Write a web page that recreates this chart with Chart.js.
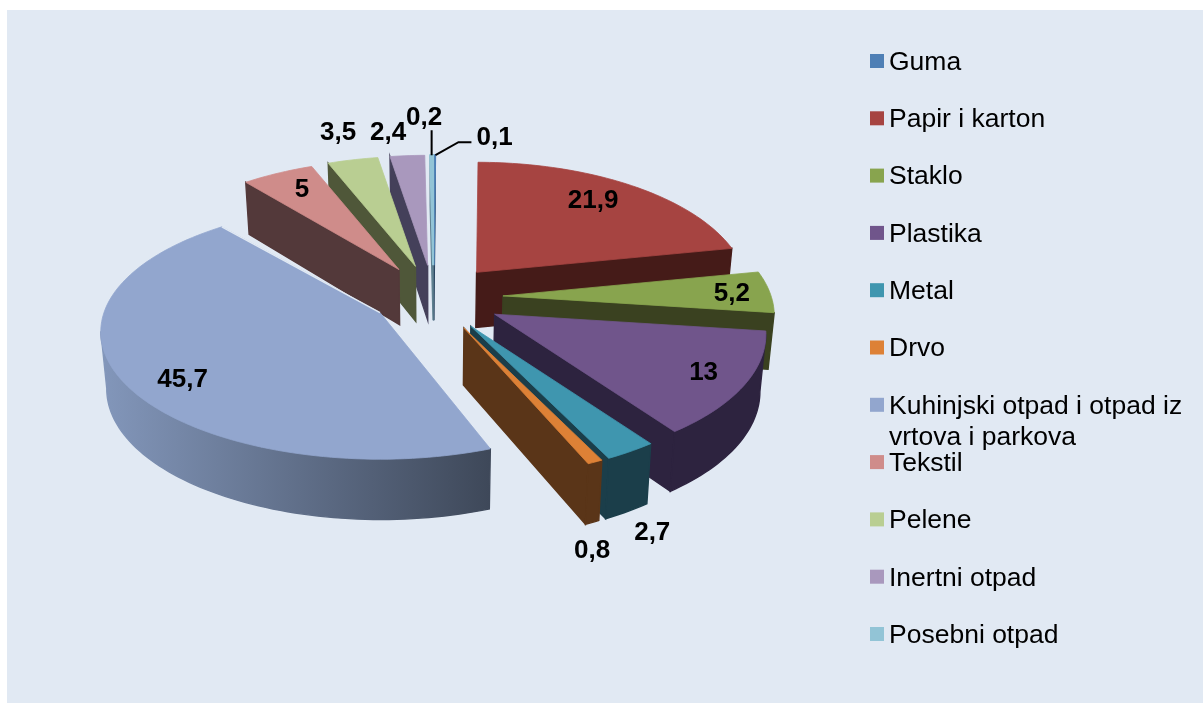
<!DOCTYPE html>
<html>
<head>
<meta charset="utf-8">
<title>Sastav otpada</title>
<script src="https://cdn.jsdelivr.net/npm/chart.js@4/dist/chart.umd.min.js"></script>
<style>
  html, body { margin: 0; padding: 0; background: #fff; overflow: hidden; }
  #panel { position: absolute; left: 7px; top: 10px; width: 1196px; height: 693px; background: #e1e9f3; }
  #chart { position: absolute; left: 0; top: 0; }
</style>
</head>
<body>
<div id="panel"></div>
<canvas id="chart" width="1203" height="703"></canvas>
<script>
const categories = ["Guma", "Papir i karton", "Staklo", "Plastika", "Metal", "Drvo",
  "Kuhinjski otpad i otpad iz vrtova i parkova", "Tekstil", "Pelene", "Inertni otpad", "Posebni otpad"];
const values = [0.1, 21.9, 5.2, 13, 2.7, 0.8, 45.7, 5, 3.5, 2.4, 0.2];
const topColors = ["#4e7fb5", "#a64441", "#88a44e", "#70558b", "#3f96af", "#dd8136",
  "#92a6ce", "#cf8c8a", "#b9ce92", "#a998bd", "#92c4d6"];
const wallColors = ["#2a4560", "#451b18", "#3a4120", "#2d233f", "#1b3e4a", "#5a3518",
  "#4f5c75", "#53393a", "#4f5739", "#44405a", "#5f8090"];
// how far each slice is pulled out, in % of the radius
const explode = [26, 26, 26, 26, 26, 26, 23, 26, 26, 26, 26];

// data label placement: radius fraction along the middle of the slice, then a nudge in px
const labelRadius = [1.2, 0.75, 0.82, 0.82, 1.1, 1, 0.78, 0.78, 1.28, 1.25, 1.4];
const labelNudge = [[60, 1], [-1, -4], [10, 1], [7, 2], [3, 67], [-3, 89], [-2, 13], [0, -3], [0, -2], [-15, 0], [-7, -1]];

// fake 3D camera, fitted by eye against the picture
const CX = 433.5, CY = 297, RX = 268, RY = 127, PERSP = 0.154, DEPTH = 56;
const BIG = 6; // the big slice is a bit wider and flatter than the rest, its front corner sits further in
const BIG_STRETCH = [1.03, 0.98], BIG_TRIM = 3.4 * Math.PI / 180;

function project(ux, uy) {
  const w = 1 - PERSP * uy;
  return { x: RX * ux / w, y: RY * uy / w };
}

// point on the top face of a slice + its counterpart on the bottom face
function slicePoint(g, theta, f) {
  const ux = Math.sin(theta) * f * g.sx;
  const uy = -Math.cos(theta) * f * g.sy;
  const q = project(ux, uy);
  const x = g.apex.x + q.x;
  const y = g.apex.y + q.y;
  return {
    x, y,
    bx: CX + (x - CX) * 0.982,
    by: y + DEPTH * (1 + 0.07 * (uy + g.offUy))
  };
}

function poly(ctx, pts, fill, lineWidth) {
  ctx.beginPath();
  pts.forEach((p, i) => (i ? ctx.lineTo(p[0], p[1]) : ctx.moveTo(p[0], p[1])));
  ctx.closePath();
  ctx.fillStyle = fill;
  ctx.fill();
  ctx.strokeStyle = fill;
  ctx.lineWidth = lineWidth || 0.8;
  ctx.stroke();
}

function sliceGeometry(arc, i) {
  const start = arc.startAngle + Math.PI / 2;
  const end = arc.endAngle + Math.PI / 2;
  const mid = (start + end) / 2;
  const e = arc.options.offset / 100;
  const offUy = -Math.cos(mid) * e;
  const p = project(Math.sin(mid) * e, offUy);
  const big = i === BIG;
  return {
    start: big ? start + BIG_TRIM : start,
    end, mid, offUy,
    sx: big ? BIG_STRETCH[0] : 1,
    sy: big ? BIG_STRETCH[1] : 1,
    apex: { x: CX + p.x, y: CY + p.y }
  };
}

function wall(ctx, a, b, mid, color) {
  // a wall is only seen when the top face lies above its edge
  const t = (mid.x - a.x) / ((b.x - a.x) || 1);
  if (mid.y > a.y + t * (b.y - a.y)) return;
  poly(ctx, [[a.x, a.y], [b.x, b.y], [b.bx, b.by], [a.bx, a.by]], color, 1.4);
}

function drawSlice(ctx, arc, i) {
  const g = sliceGeometry(arc, i);
  const steps = Math.max(3, Math.ceil((g.end - g.start) * 40));
  const rim = [];
  for (let s = 0; s <= steps; s++) {
    rim.push(slicePoint(g, g.start + (g.end - g.start) * s / steps, 1));
  }
  const apexPt = slicePoint(g, g.mid, 0);
  const midPt = slicePoint(g, g.mid, 0.8);
  const last = rim[rim.length - 1];

  wall(ctx, apexPt, rim[0], midPt, wallColors[i]);
  wall(ctx, apexPt, last, midPt, wallColors[i]);

  // outer wall, only where the rim runs right to left (front of the pie)
  const front = rim.filter((p, k) => (rim[k + 1] && rim[k + 1].x < p.x) || (rim[k - 1] && p.x < rim[k - 1].x));
  if (front.length > 1) {
    let fill = wallColors[i];
    if (i === BIG) {
      fill = ctx.createLinearGradient(100, 0, 490, 0);
      fill.addColorStop(0, "#8397bb");
      fill.addColorStop(1, "#3e4859");
    }
    const outline = front.map((p) => [p.x, p.y]).concat(front.slice().reverse().map((p) => [p.bx, p.by]));
    poly(ctx, outline, fill, 1.4);
  }

  const top = [[apexPt.x, apexPt.y]].concat(rim.map((p) => [p.x, p.y]));
  // the tiny slices would vanish otherwise
  poly(ctx, top, topColors[i], values[i] < 0.5 ? 2 : 0.8);

  if (i === BIG) {
    // light edge against the walls behind it
    ctx.strokeStyle = "#e1e9f3";
    ctx.lineWidth = 1.5;
    ctx.beginPath();
    ctx.moveTo(apexPt.x, apexPt.y);
    ctx.lineTo(last.x, last.y);
    ctx.stroke();
  }
}

function drawLabels(chart) {
  const ctx = chart.ctx;
  const arcs = chart.getDatasetMeta(0).data;
  ctx.font = "bold 26px 'Liberation Sans', Arial, sans-serif";
  ctx.fillStyle = "#000";
  ctx.textAlign = "center";
  ctx.textBaseline = "middle";
  values.forEach((v, i) => {
    const g = sliceGeometry(arcs[i], i);
    const p = slicePoint(g, g.mid, labelRadius[i]);
    ctx.fillText(String(v).replace(".", ","), p.x + labelNudge[i][0], p.y + labelNudge[i][1]);
  });

  // leader lines of the two tiny slices
  const rimOf = (i) => {
    const g = sliceGeometry(arcs[i], i);
    return slicePoint(g, g.mid, 1);
  };
  const a = rimOf(10), b = rimOf(0);
  ctx.strokeStyle = "#000";
  ctx.lineWidth = 2;
  ctx.beginPath();
  ctx.moveTo(a.x, a.y);
  ctx.lineTo(a.x, a.y - 25);
  ctx.moveTo(b.x + 1, b.y);
  ctx.lineTo(b.x + 24, b.y - 13);
  ctx.lineTo(b.x + 37, b.y - 13);
  ctx.stroke();
}

function drawLegend(chart) {
  const ctx = chart.ctx;
  ctx.font = "26.5px 'Liberation Sans', Arial, sans-serif";
  ctx.textAlign = "left";
  ctx.textBaseline = "middle";
  categories.forEach((name, i) => {
    const y = 61 + 57.3 * i;
    ctx.fillStyle = topColors[i];
    ctx.fillRect(870, y - 7, 14, 14);
    ctx.fillStyle = "#000";
    if (name.length > 30) {
      // this one wraps in two lines, the rest of the list keeps its step
      ctx.fillText(name.slice(0, 26), 889, y + 1.5);
      ctx.fillText(name.slice(27), 889, y + 33);
    } else {
      ctx.fillText(name, 889, y + 1.5);
    }
  });
}

const pie3d = {
  id: "pie3d",
  beforeDatasetsDraw(chart) {
    const ctx = chart.ctx;
    const arcs = chart.getDatasetMeta(0).data;
    // back to front
    const order = [0, 10, 9, 8, 7, 6, 1, 2, 3, 4, 5];
    ctx.save();
    order.forEach((i) => drawSlice(ctx, arcs[i], i));
    ctx.restore();
    drawLabels(chart);
    drawLegend(chart);
    return false; // the flat arcs are replaced by the tilted ones
  }
};

new Chart(document.getElementById("chart"), {
  type: "pie",
  data: {
    labels: categories,
    datasets: [{ data: values, backgroundColor: topColors, offset: explode }]
  },
  options: {
    responsive: false,
    devicePixelRatio: 1,
    animation: false,
    rotation: 0,
    plugins: { legend: { display: false }, tooltip: { enabled: false } }
  },
  plugins: [pie3d]
});
</script>
</body>
</html>
